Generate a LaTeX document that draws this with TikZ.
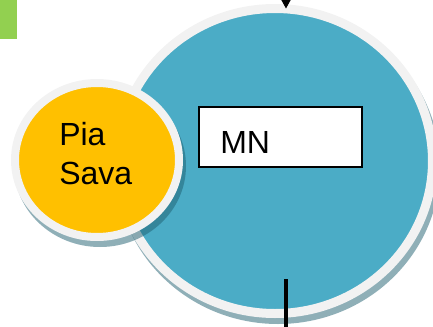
\documentclass[tikz,border=0pt]{standalone}
\usepackage{fontspec}
\setmainfont{Liberation Sans}
\usetikzlibrary{shapes.geometric,arrows.meta}

\definecolor{hubblue}{HTML}{4BACC6}
\definecolor{seedorange}{HTML}{FFC000}
\definecolor{leafgreen}{HTML}{92D050}
\definecolor{rimgray}{HTML}{F2F2F2}
\definecolor{shadowteal}{HTML}{1F5F70}

\begin{document}
\begin{tikzpicture}[x=0.75pt,y=-0.75pt,
  disc/.style={ellipse,inner sep=0pt,outer sep=0pt,draw=rimgray},
  drop/.style={fill=shadowteal,fill opacity=0.5},
  tagbox/.style={draw=black,fill=white,line width=1.1pt,inner sep=0pt},
  label text/.style={font=\fontsize{24}{29}\selectfont,inner sep=0pt}]
\useasboundingbox (0,0) rectangle (433,326);

\fill[leafgreen] (0,0) rectangle (17,39);

% big disc and its shadow
\fill[drop] (278,167) ellipse [x radius=162,y radius=157];
\node[disc,fill=hubblue,line width=6.75pt,
  minimum width=236.25pt,minimum height=228.75pt] (hub) at (275,161) {};

% small disc sits over the big one
\fill[drop] (100,166) ellipse [x radius=86,y radius=81];
\node[disc,fill=seedorange,line width=6pt,
  minimum width=123pt,minimum height=115.5pt] (seed) at (97,160) {};
\node[label text,anchor=north west,align=left] (pia) at (59,122) {Pia\\Sava};

\node[tagbox,minimum width=122.25pt,minimum height=45pt] (mnbox) at (280.5,137) {};
\node[label text,anchor=base west] (mn) at (220,153) {MN};

\coordinate (feed) at (286,-30);
\coordinate (tail) at (286,279);
\coordinate (drain) at (286,340);
\draw[line width=1pt,-{Triangle[width=7.5pt,length=7pt]}] (feed) -- (feed |- hub.north);
\draw[line width=3.4pt] (tail) -- (drain);
\end{tikzpicture}
\end{document}
